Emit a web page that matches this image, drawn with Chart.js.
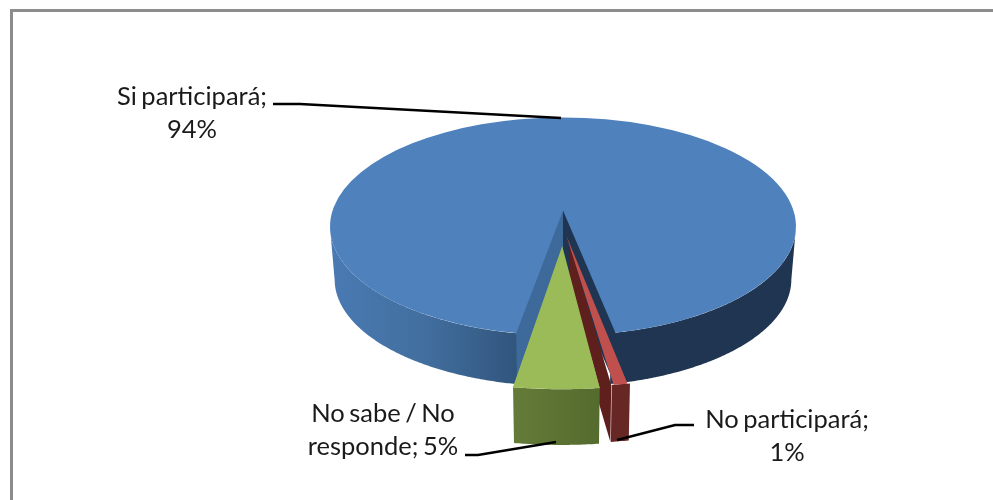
<!DOCTYPE html>
<html>
<head>
<meta charset="utf-8">
<title>Participación</title>
<script src="https://cdn.jsdelivr.net/npm/chart.js@4/dist/chart.umd.min.js"></script>
<style>
html, body { margin: 0; background: #fff; overflow: hidden; }
#frame { position: absolute; left: 10px; top: 9px; right: 0; bottom: 0; border-top: 3px solid #8c8c8c; border-left: 3px solid #8c8c8c; }
canvas { position: absolute; left: 0; top: 0; }
</style>
</head>
<body>
<div id="frame"></div>
<canvas id="pieChart" width="993" height="500"></canvas>
<script>
// Data
var categories = ['Si participará', 'No participará', 'No sabe / No responde'];
var percentValues = [94, 1, 5];
var sliceColors = ['#4f81bd', '#c0504d', '#9bbb59'];

// 3d look: chart.js only has flat pies so the plugin squashes the arcs and adds the walls
var view = {
    ratio: 0.468,
    depth: [53, 46, 49],
    taper: 0.98,
    perspective: [1, 1.3, 1.19],
    apexLift: [16, 0, 9],
    explode: [0, 62, 140],
    cutSpread: 1.5 * Math.PI / 180
};

var labelLayout = [
    { x: 192, y: 97, width: 190, leader: [[273, 104], [300, 104], [561, 118]] },
    { x: 787, y: 420, width: 190, leader: [[617, 440], [675, 425], [694, 425]] },
    { x: 383, y: 414, width: 170, leader: [[465, 455], [478, 455], [556, 442]] }
];

function sliceCenter(arc) {
    var circ = arc.circumference;
    var fix = 1 - Math.sin(Math.min(Math.PI, circ));
    var eff = (arc.options.offset / 4) * (1 + fix);
    var mid = (arc.startAngle + arc.endAngle) / 2;
    return { dx: Math.cos(mid) * eff, dy: Math.sin(mid) * eff };
}

// screen position of a rim point, level 0 = top face, 1 = bottom of the wall
function project(arc, i, angle, level) {
    var s = view.perspective[i];
    var c = sliceCenter(arc);
    var r = arc.outerRadius * (level ? view.taper : 1);
    return {
        x: arc.x + s * (c.dx + r * Math.cos(angle)),
        y: arc.y + s * (view.ratio * (c.dy + r * Math.sin(angle)) + (level ? view.depth[i] : 0))
    };
}

function apex(arc, i, level) {
    var s = view.perspective[i];
    var c = sliceCenter(arc);
    return {
        x: arc.x + s * c.dx,
        y: arc.y + s * view.ratio * c.dy - view.apexLift[i] + (level ? s * view.depth[i] : 0)
    };
}

function poly(ctx, pts, fill) {
    ctx.beginPath();
    pts.forEach(function(p, k) {
        if (k === 0) ctx.moveTo(p.x, p.y); else ctx.lineTo(p.x, p.y);
    });
    ctx.closePath();
    ctx.fillStyle = fill;
    ctx.fill();
}

// the part of the rim that faces the viewer
function outerWall(ctx, arc, i, fill) {
    var runs = [], run = null;
    var step = Math.PI / 360;
    for (var a = arc.startAngle; a <= arc.endAngle + 1e-6; a += step) {
        var t = Math.min(a, arc.endAngle);
        if (Math.sin(t) >= 0) {
            if (!run) { run = []; runs.push(run); }
            run.push(t);
        } else {
            run = null;
        }
    }
    runs.forEach(function(angles) {
        var top = angles.map(function(t) { return project(arc, i, t, 0); });
        var bottom = angles.map(function(t) { return project(arc, i, t, 1); }).reverse();
        poly(ctx, top.concat(bottom), fill);
    });
}

function cutWall(ctx, arc, i, angle, fill) {
    poly(ctx, [apex(arc, i, 0), project(arc, i, angle, 0), project(arc, i, angle, 1), apex(arc, i, 1)], fill);
}

function drawTop(ctx, arc, i) {
    var s = view.perspective[i];
    ctx.save();
    ctx.translate(arc.x, arc.y);
    ctx.scale(s, s * view.ratio);
    ctx.translate(-arc.x, -arc.y);
    arc.draw(ctx);
    ctx.restore();
}

function wallGradient(ctx, x0, x1, stops) {
    var g = ctx.createLinearGradient(x0, 0, x1, 0);
    stops.forEach(function(st) { g.addColorStop(st[0], st[1]); });
    return g;
}

var pie3d = {
    id: 'pie3d',
    beforeDatasetDraw: function() {
        return false;
    },
    afterDatasetsDraw: function(chart) {
        var ctx = chart.ctx;
        var arcs = chart.getDatasetMeta(0).data;
        var blue = arcs[0], red = arcs[1], green = arcs[2];
        var r = blue.outerRadius;

        outerWall(ctx, blue, 0, wallGradient(ctx, blue.x - r, blue.x + r, [
            [0, '#4a7ab3'], [0.2, '#426f9f'], [0.39, '#32577f'], [0.40, '#32577f'],
            [0.41, '#24405f'], [0.6, '#1f3551'], [1, '#1f3551']
        ]));
        drawTop(ctx, blue, 0);
        cutWall(ctx, blue, 0, blue.startAngle + view.cutSpread, '#3e6a9b');
        cutWall(ctx, blue, 0, blue.endAngle - view.cutSpread, '#1f3551');

        cutWall(ctx, red, 1, red.endAngle, '#5f1f1d');
        outerWall(ctx, red, 1, '#662725');
        drawTop(ctx, red, 1);

        outerWall(ctx, green, 2, wallGradient(ctx, green.x - 60, green.x + 40, [[0, '#667d39'], [1, '#546a2e']]));
        drawTop(ctx, green, 2);
        poly(ctx, [apex(green, 2, 0), project(green, 2, green.startAngle, 0), project(green, 2, green.endAngle, 0)], sliceColors[2]);
    },
    afterDraw: function(chart) {
        var ctx = chart.ctx;
        ctx.save();
        ctx.font = '25.5px Lato';
        ctx.wordSpacing = '-2px';
        ctx.fillStyle = '#1a1a1a';
        ctx.textAlign = 'center';
        ctx.textBaseline = 'middle';
        labelLayout.forEach(function(lay, i) {
            var words = (categories[i] + '; ' + percentValues[i] + '%').split(' ');
            var lines = [], line = '';
            words.forEach(function(w) {
                var next = line ? line + ' ' + w : w;
                if (ctx.measureText(next).width > lay.width && line) {
                    lines.push(line);
                    line = w;
                } else {
                    line = next;
                }
            });
            lines.push(line);
            lines.forEach(function(l, k) {
                ctx.fillText(l, lay.x, lay.y + k * 33);
            });

            ctx.beginPath();
            lay.leader.forEach(function(p, k) {
                if (k === 0) ctx.moveTo(p[0], p[1]); else ctx.lineTo(p[0], p[1]);
            });
            ctx.strokeStyle = '#000';
            ctx.lineWidth = 2.5;
            ctx.stroke();
        });
        ctx.restore();
    }
};

var ctxPie = document.getElementById('pieChart').getContext('2d');
var pieChart = new Chart(ctxPie, {
    type: 'pie',
    data: {
        labels: categories,
        datasets: [{
            data: percentValues,
            backgroundColor: sliceColors,
            borderWidth: 0,
            offset: view.explode
        }]
    },
    options: {
        responsive: false,
        animation: false,
        events: [],
        rotation: 190.1,
        radius: 233,
        layout: {
            padding: { left: 133, right: 0, top: 0, bottom: 47 }
        },
        plugins: {
            legend: { display: false },
            tooltip: { enabled: false }
        }
    },
    plugins: [pie3d]
});
</script>
</body>
</html>
